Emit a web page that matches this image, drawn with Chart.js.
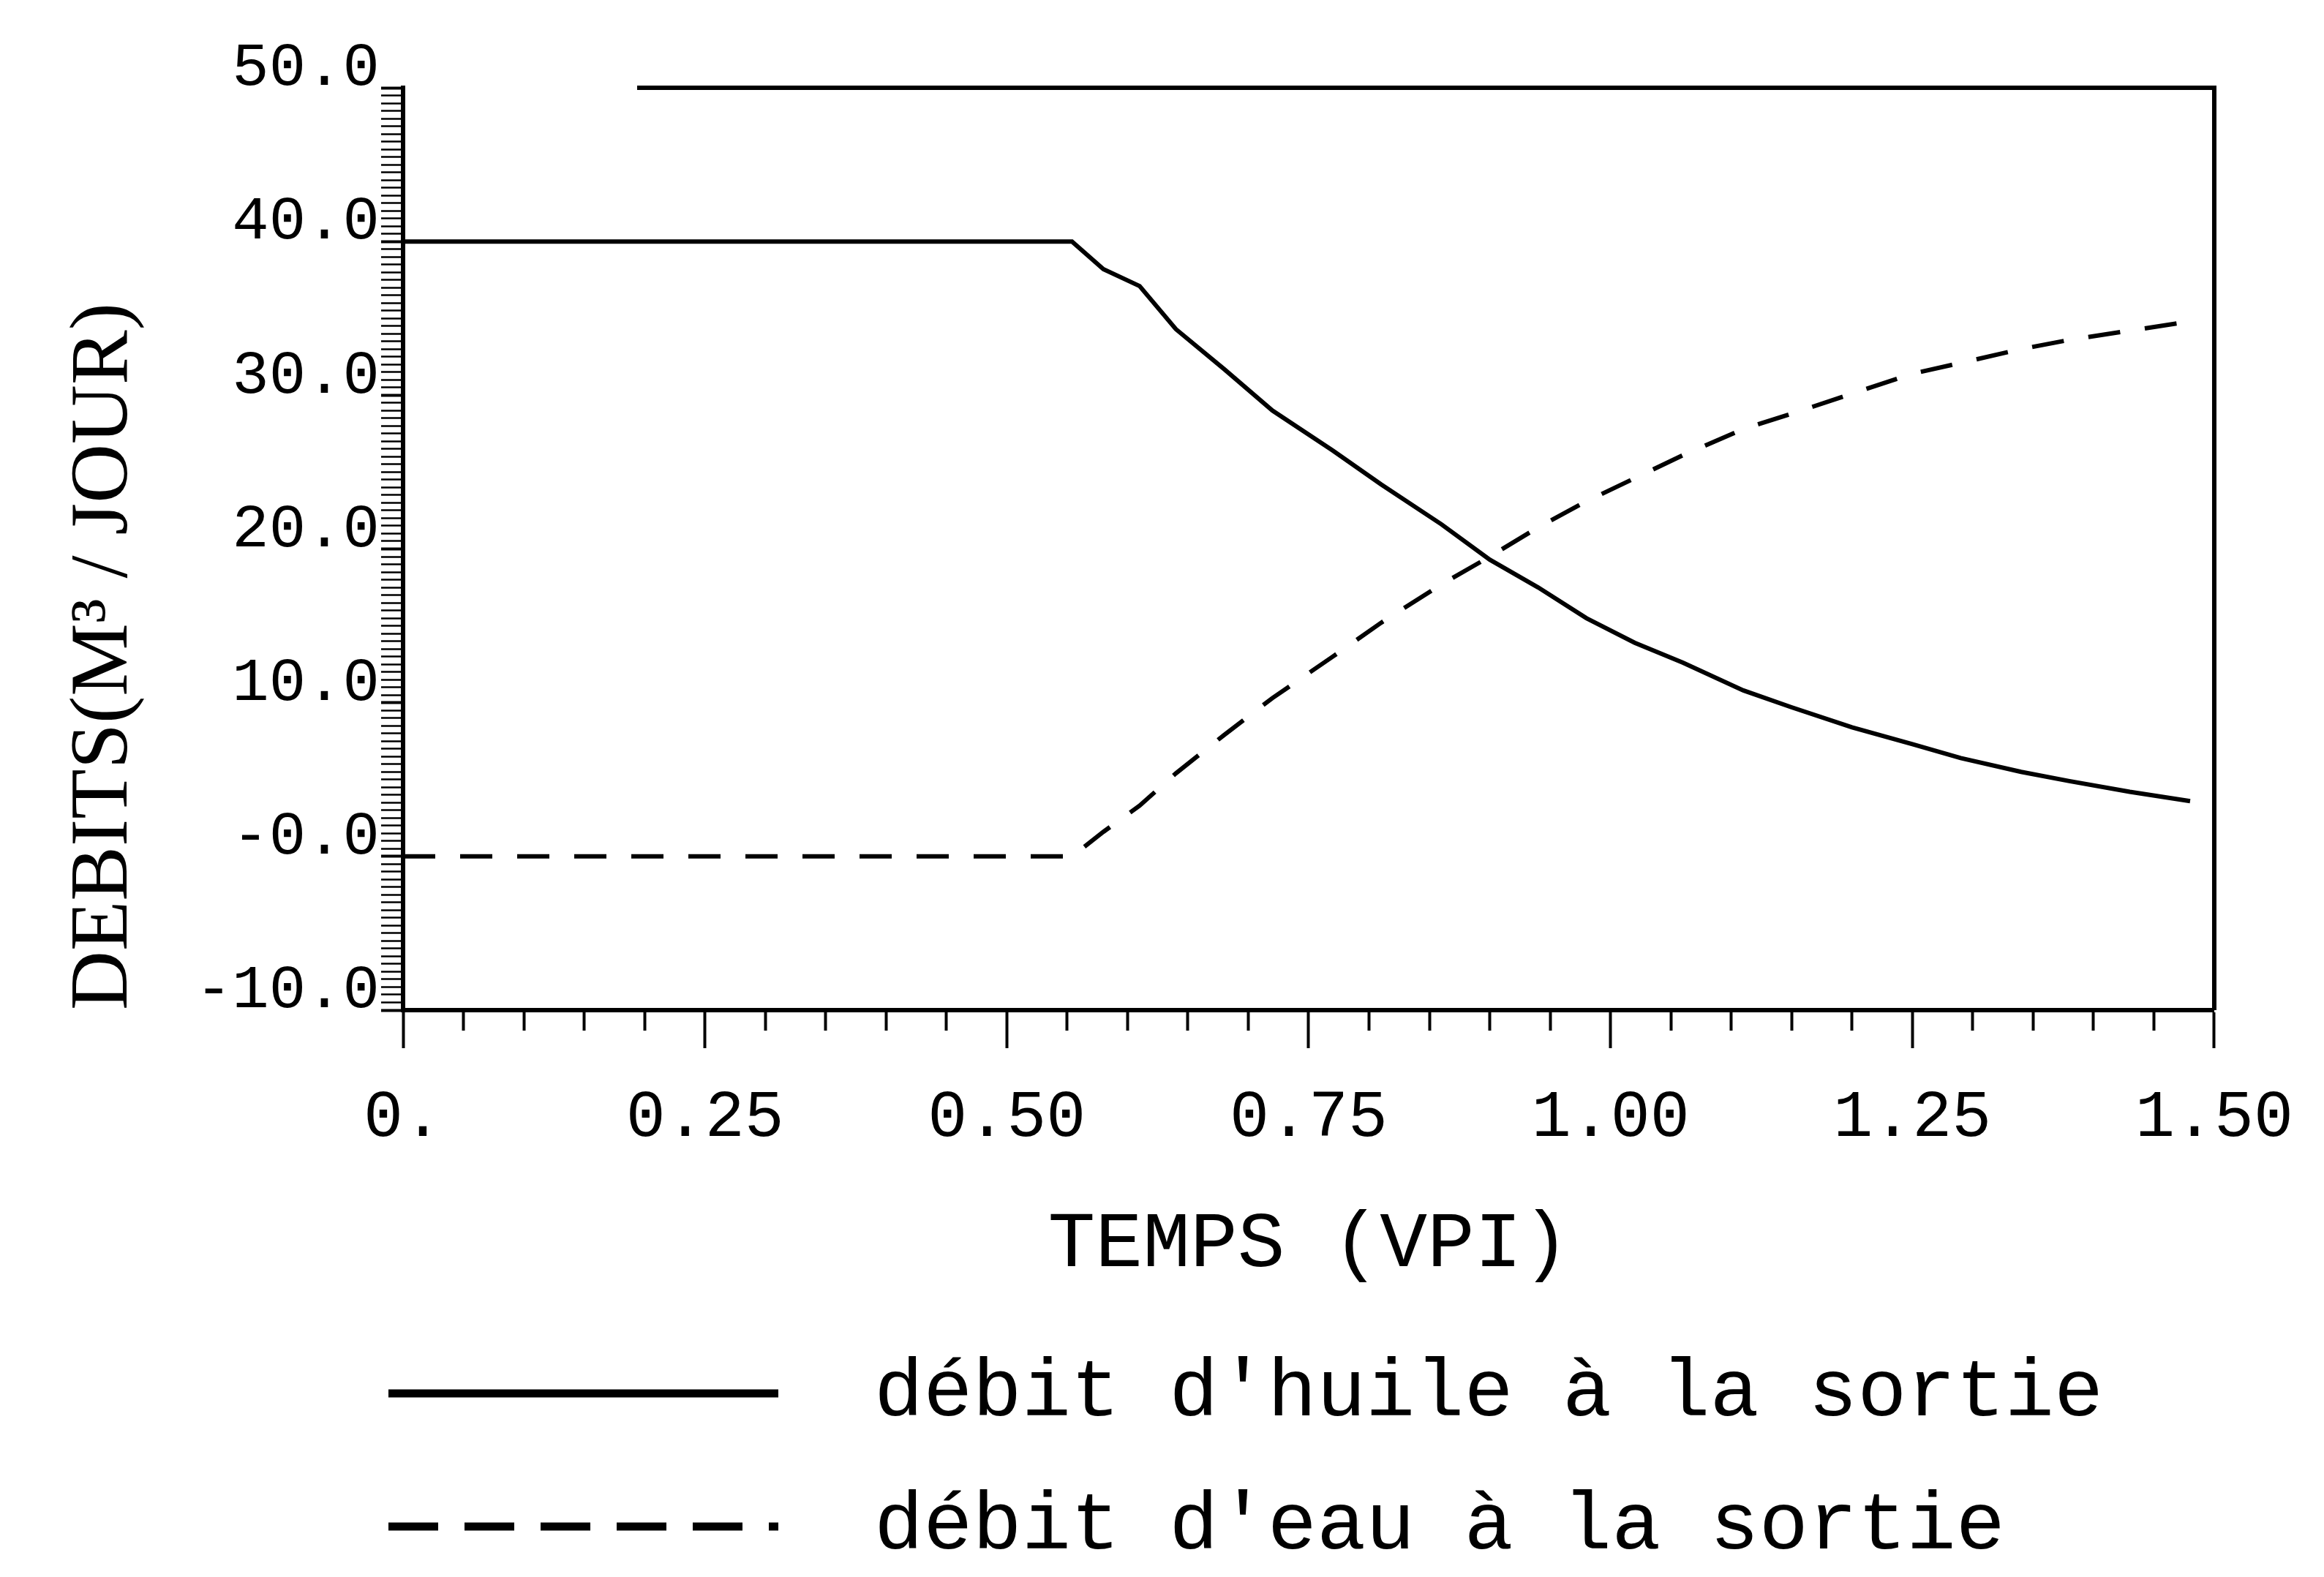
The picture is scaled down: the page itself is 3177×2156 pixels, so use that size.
<!DOCTYPE html>
<html>
<head>
<meta charset="utf-8">
<script src="https://cdn.jsdelivr.net/npm/chart.js@4.4.0/dist/chart.umd.min.js"></script>
<style>
  html, body { margin: 0; padding: 0; background: #fff; }
</style>
</head>
<body>
<canvas id="debits" width="3177" height="2156"></canvas>
<script>
// temps en VPI, debits en m3/jour
var temps = [0, 0.554, 0.58, 0.61, 0.64, 0.68, 0.72, 0.77, 0.81, 0.86, 0.90, 0.94, 0.98,
             1.02, 1.06, 1.11, 1.15, 1.20, 1.25, 1.29, 1.34, 1.38, 1.43, 1.48];
var debitHuile = [40, 40, 38.2, 37.1, 34.3, 31.7, 29.0, 26.4, 24.2, 21.6, 19.3, 17.5, 15.5,
                  13.9, 12.6, 10.8, 9.7, 8.4, 7.3, 6.4, 5.5, 4.9, 4.2, 3.6];
var debitEau = [0, 0, 1.6, 3.3, 5.4, 7.9, 10.3, 13.0, 15.2, 17.7, 19.5, 21.4, 23.1,
                24.6, 26.1, 27.8, 28.8, 30.1, 31.4, 32.1, 33.0, 33.6, 34.2, 34.8];
var xTickLabels = ['0.', '0.25', '0.50', '0.75', '1.00', '1.25', '1.50'];
var yTickLabels = ['-10.0', '-0.0', '10.0', '20.0', '30.0', '40.0', '50.0'];
var seriesNames = ["débit d'huile à la sortie", "débit d'eau à la sortie"];

function points(ys) {
    return temps.map(function (t, i) { return { x: t, y: ys[i] }; });
}

function isMultiple(v, step) {
    return Math.abs(v / step - Math.round(v / step)) < 1e-6;
}

var fondBlanc = {
    id: 'fondBlanc',
    beforeDraw: function (chart) {
        var ctx = chart.ctx;
        ctx.save();
        ctx.fillStyle = '#fff';
        ctx.fillRect(0, 0, chart.width, chart.height);
        ctx.restore();
    }
};

// haut et droite du cadre
var cadre = {
    id: 'cadre',
    afterDatasetsDraw: function (chart) {
        var a = chart.chartArea;
        var ctx = chart.ctx;
        ctx.save();
        ctx.strokeStyle = '#000';
        ctx.lineWidth = 6;
        ctx.beginPath();
        ctx.moveTo(a.left + 320, a.top);
        ctx.lineTo(a.right, a.top);
        ctx.lineTo(a.right, a.bottom);
        ctx.stroke();
        ctx.restore();
    }
};

// legende en colonne sous le titre de l'axe x
var legende = {
    id: 'legende',
    afterDraw: function (chart, args, opts) {
        var ctx = chart.ctx;
        ctx.save();
        chart.data.datasets.forEach(function (ds, i) {
            var y = opts.y + i * opts.gap;
            ctx.strokeStyle = '#000';
            ctx.lineWidth = 11;
            ctx.setLineDash(opts.dashes[i]);
            ctx.beginPath();
            ctx.moveTo(opts.x, y);
            ctx.lineTo(opts.x + opts.length, y);
            ctx.stroke();
            ctx.setLineDash([]);
            ctx.fillStyle = '#000';
            ctx.font = '112px "Liberation Mono"';
            ctx.textBaseline = 'middle';
            ctx.fillText(ds.label, opts.textX, y);
        });
        ctx.restore();
    }
};

new Chart(document.getElementById('debits'), {
    type: 'line',
    data: {
        datasets: [{
            label: seriesNames[0],
            data: points(debitHuile),
            borderColor: '#000',
            borderWidth: 6,
            pointRadius: 0,
            tension: 0,
            fill: false
        }, {
            label: seriesNames[1],
            data: points(debitEau),
            borderColor: '#000',
            borderWidth: 6,
            borderDash: [44, 34],
            pointRadius: 0,
            tension: 0,
            fill: false
        }]
    },
    options: {
        responsive: false,
        animation: false,
        devicePixelRatio: 1,
        layout: { padding: { left: 0, right: 122, top: 120, bottom: 389 } },
        plugins: {
            legend: { display: false },
            tooltip: { enabled: false },
            legende: { x: 531, length: 533, textX: 1195, y: 1905, gap: 182, dashes: [[], [68, 36]] }
        },
        scales: {
            x: {
                type: 'linear',
                min: 0,
                max: 1.5,
                afterFit: function (scale) { scale.height = 386; },
                border: { display: true, color: '#000', width: 6 },
                grid: {
                    drawOnChartArea: false,
                    tickLength: 52,
                    tickColor: '#000',
                    tickWidth: 4,
                    tickBorderDash: function (c) {
                        return isMultiple(c.tick.value, 0.25) ? [] : [25, 200];
                    }
                },
                ticks: {
                    stepSize: 0.05,
                    autoSkip: false,
                    maxRotation: 0,
                    padding: 42,
                    color: '#000',
                    font: { family: 'Liberation Mono', size: 90 },
                    callback: function (v) {
                        return isMultiple(v, 0.25) ? xTickLabels[Math.round(v / 0.25)] : '';
                    }
                },
                title: {
                    display: true,
                    text: 'TEMPS (VPI)',
                    color: '#000',
                    font: { family: 'Liberation Mono', size: 108 },
                    padding: { top: 0, bottom: 0 }
                }
            },
            y: {
                type: 'linear',
                min: -10,
                max: 50,
                afterFit: function (scale) { scale.width = 551; },
                border: { display: true, color: '#000', width: 6 },
                grid: {
                    drawOnChartArea: false,
                    tickLength: 30,
                    tickColor: '#000',
                    tickWidth: function (c) {
                        return isMultiple(c.tick.value, 10) ? 4 : 2.5;
                    }
                },
                ticks: {
                    stepSize: 0.5,
                    autoSkip: false,
                    maxTicksLimit: 1000,
                    padding: 2,
                    labelOffset: -26,
                    color: '#000',
                    font: { family: 'Liberation Mono', size: 84 },
                    callback: function (v) {
                        return isMultiple(v, 10) ? yTickLabels[Math.round((v + 10) / 10)] : '';
                    }
                },
                title: {
                    display: true,
                    text: 'DEBITS(M³ / JOUR)',
                    align: 'start',
                    color: '#000',
                    font: { family: 'Liberation Serif', size: 112 },
                    padding: { top: 76, bottom: 0 }
                }
            }
        }
    },
    plugins: [fondBlanc, cadre, legende]
});
</script>
</body>
</html>
